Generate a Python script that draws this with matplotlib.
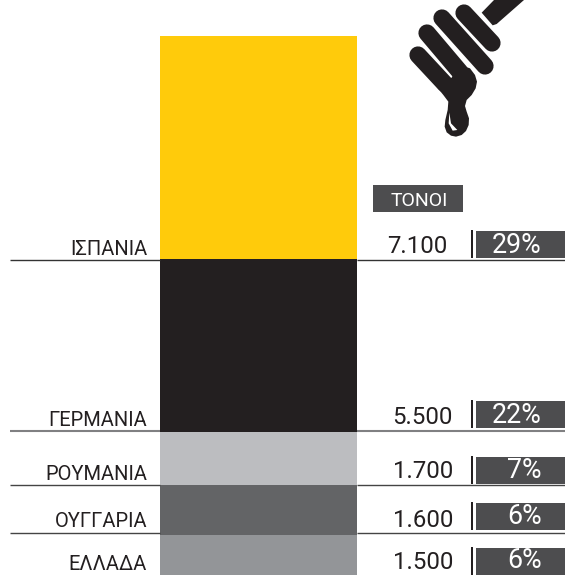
import matplotlib
matplotlib.use("Agg")
import matplotlib.pyplot as plt
from matplotlib.patches import Polygon, Rectangle

countries = ["ΙΣΠΑΝΙΑ", "ΓΕΡΜΑΝΙΑ", "ΡΟΥΜΑΝΙΑ", "ΟΥΓΓΑΡΙΑ", "ΕΛΛΑΔΑ"]
tonnes = [7100, 5500, 1700, 1600, 1500]
tonne_labels = ["7.100", "5.500", "1.700", "1.600", "1.500"]
shares = ["29%", "22%", "7%", "6%", "6%"]
colors = ["#FFCB0B", "#231F20", "#BCBDC0", "#636466", "#939598"]
header = "ΤΟΝΟΙ"

W, H = 565, 575
plt.rcParams["font.family"] = ["Roboto", "DejaVu Sans"]
fig = plt.figure(figsize=(W / 100, H / 100), dpi=100)

ax = fig.add_axes([0, 0, 1, 1])
scale = 0.0314
ax.set_xlim(0, W)
ax.set_ylim((H - 36) / scale, -36 / scale)
ax.axis("off")
bottom = 0
for v, c in zip(tonnes, colors):
    ax.bar(258.5, v, width=197, bottom=bottom, color=c, linewidth=0)
    bottom += v

ov = fig.add_axes([0, 0, 1, 1], facecolor="none")
ov.set_xlim(0, W)
ov.set_ylim(H, 0)
ov.axis("off")

BOX = "#4D4D4F"
label_base = [255, 426, 480, 527, 570]
num_base = [253, 424, 478, 527, 569]
num_right = [447, 453, 453, 453, 453]
pct_base = [253, 423, 478, 524, 568]
box_top = [231, 401, 457, 503, 548]
rule_y = [260, 431, 485, 533]
rule_c = ["#333333", "#808082", "#444444", "#444444"]
rule_w = [1.0, 1.5, 1.0, 1.0]

for y, c, w in zip(rule_y, rule_c, rule_w):
    ov.plot([10, 160], [y, y], color=c, lw=w, solid_capstyle="butt", zorder=1)
    ov.plot([357, 565], [y, y], color=c, lw=w, solid_capstyle="butt", zorder=1)

for name, lab, sh, ly, ny, nr, py, bt in zip(countries, tonne_labels, shares, label_base, num_base, num_right, pct_base, box_top):
    ov.text(147, ly, name, ha="right", va="baseline", fontsize=14.5, color="#231F20")
    ov.text(nr, ny, lab, ha="right", va="baseline", fontsize=17.3, color="#231F20")
    ov.add_patch(Rectangle((476, bt), 90, 27, color=BOX, lw=0))
    ov.add_patch(Rectangle((470.5, bt - 1), 2.8, 28, color="#231F20", lw=0))
    ov.text(541.5, py, sh, ha="right", va="baseline", fontsize=19.3, color="white")

ov.add_patch(Rectangle((373, 185), 90, 27, color=BOX, lw=0))
ov.text(419, 205.5, header, ha="center", va="baseline", fontsize=14, color="white")


def z(pts):
    return [(380 + x / 3, y / 3) for x, y in pts]


INK = "#231F20"
ov.add_patch(Polygon(z([(305, 38), (342, 0), (432, 0), (350, 72), (338, 76)]), closed=True, color=INK, lw=0))
fingers = [((464, 13), (492, 43)), ((442, 18), (485, 66)), ((427, 33), (460, 72)), ((418, 55), (445, 84))]
for (x0, y0), (x1, y1) in fingers:
    ov.plot([x0, x1], [y0, y1], color=INK, lw=12.4, solid_capstyle="round")
ov.add_patch(Polygon(z([(168, 258), (178, 235), (214, 234), (240, 195), (270, 205), (285, 225), (291, 245),
                        (287, 265), (275, 285), (260, 300), (255, 318), (260, 335), (267, 355), (266, 375),
                        (258, 393), (245, 405), (228, 410), (213, 407), (200, 397), (194, 380), (196, 360),
                        (203, 330), (205, 305), (190, 285)]),
                     closed=True, color=INK, lw=0))
ov.add_patch(Polygon(z([(208, 338), (213, 370), (232, 390), (218, 392), (206, 370)]), closed=True, color="white", lw=0))

fig.savefig("out.png", dpi=100)
